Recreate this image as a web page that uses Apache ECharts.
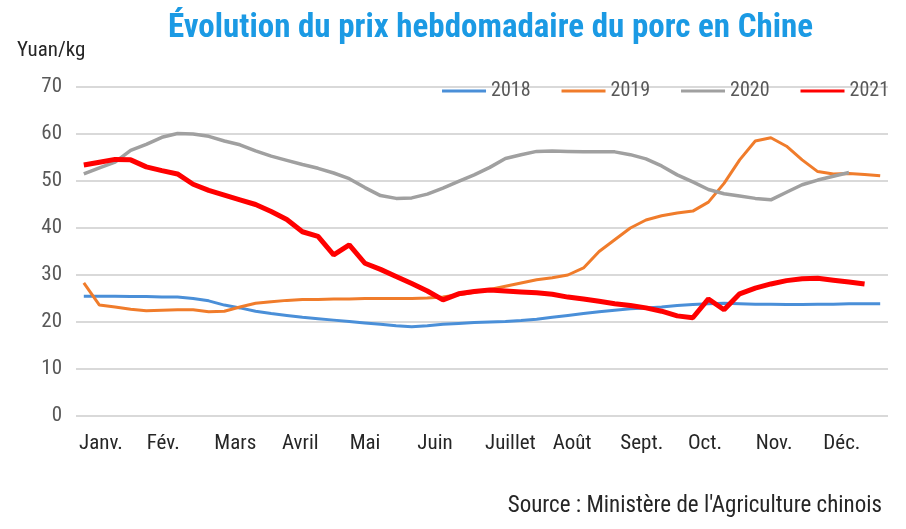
<!DOCTYPE html>
<html>
<head>
<meta charset="utf-8">
<script src="https://cdn.jsdelivr.net/npm/echarts@6/dist/echarts.min.js"></script>
<style>
  html, body { margin: 0; padding: 0; background: #fff; }
  #chart { width: 906px; height: 529px; }
</style>
</head>
<body>
<div id="chart"></div>
<script>
// mois affichés sous l'axe
const months = ['Janv.', 'Fév.', 'Mars', 'Avril', 'Mai', 'Juin', 'Juillet', 'Août', 'Sept.', 'Oct.', 'Nov.', 'Déc.']
const weeks = Array.from({ length: 52 }, (_, i) => 'S' + (i + 1))

// prix hebdomadaire (yuan/kg)
const p2018 = [25.5, 25.5, 25.5, 25.4, 25.4, 25.3, 25.3, 25.0, 24.5, 23.6, 23.0, 22.3, 21.8, 21.4, 21.0, 20.7,
  20.4, 20.1, 19.8, 19.5, 19.2, 19.0, 19.2, 19.5, 19.7, 19.9, 20.0, 20.1, 20.3, 20.6, 21.0, 21.4,
  21.8, 22.2, 22.5, 22.8, 23.0, 23.2, 23.5, 23.7, 23.9, 24.0, 23.9, 23.8, 23.8, 23.7, 23.7, 23.8,
  23.8, 23.9, 23.9, 23.9]
const p2019 = [28.3, 23.6, 23.2, 22.7, 22.4, 22.5, 22.6, 22.6, 22.2, 22.3, 23.2, 24.0, 24.3, 24.6, 24.8, 24.8,
  24.9, 24.9, 25.0, 25.0, 25.0, 25.0, 25.1, 25.3, 25.8, 26.3, 26.9, 27.6, 28.3, 29.0, 29.4, 30.0,
  31.5, 35.0, 37.5, 40.0, 41.7, 42.6, 43.2, 43.6, 45.5, 49.5, 54.5, 58.5, 59.2, 57.4, 54.5, 52.0,
  51.5, 51.6, 51.4, 51.1]
const p2020 = [51.5, 52.8, 54.0, 56.5, 57.8, 59.3, 60.1, 60.0, 59.5, 58.5, 57.7, 56.4, 55.3, 54.4, 53.5, 52.7,
  51.7, 50.5, 48.6, 46.9, 46.3, 46.4, 47.2, 48.5, 49.9, 51.3, 52.9, 54.8, 55.6, 56.3, 56.4, 56.3,
  56.2, 56.2, 56.2, 55.6, 54.7, 53.2, 51.3, 49.8, 48.2, 47.3, 46.8, 46.3, 46.0, 47.6, 49.2, 50.2,
  51.0, 51.8]
const p2021 = [53.4, 54.0, 54.6, 54.5, 53.0, 52.2, 51.5, 49.3, 48.0, 47.0, 46.0, 45.0, 43.5, 41.8, 39.2, 38.2,
  34.3, 36.4, 32.5, 31.2, 29.7, 28.2, 26.6, 24.7, 26.0, 26.5, 26.8, 26.6, 26.4, 26.2, 25.9, 25.3,
  24.9, 24.4, 23.9, 23.5, 23.0, 22.3, 21.3, 20.9, 24.9, 22.6, 26.0, 27.2, 28.1, 28.8, 29.2, 29.3,
  28.9, 28.5, 28.1]

const narrow = "'Liberation Sans Narrow', 'Roboto Condensed', Roboto, sans-serif"

const chart = echarts.init(document.getElementById('chart'))
chart.setOption({
  animation: false,
  title: [
    {
      text: 'Évolution du prix hebdomadaire du porc en Chine',
      left: 163,
      top: 7,
      textStyle: { color: '#1b9ae4', fontSize: 33, fontWeight: 'bold', fontFamily: narrow }
    },
    {
      text: 'Yuan/kg',
      left: 12,
      top: 35,
      textStyle: { color: '#262626', fontSize: 21, fontWeight: 'normal', fontFamily: narrow }
    },
    {
      text: "Source : Ministère de l'Agriculture chinois",
      right: 19,
      top: 490,
      textStyle: { color: '#262626', fontSize: 23, fontWeight: 'normal', fontFamily: narrow }
    }
  ],
  legend: {
    right: 12,
    top: 76,
    icon: 'rect',
    itemWidth: 44,
    itemHeight: 3,
    itemGap: 31,
    textStyle: { color: '#595959', fontSize: 20, fontFamily: narrow },
    data: ['2018', '2019', '2020', '2021']
  },
  grid: { left: 76, right: 18, top: 87, bottom: 113 },
  xAxis: [
    {
      type: 'category',
      data: weeks,
      boundaryGap: true,
      show: false
    },
    {
      type: 'value',
      min: 0,
      max: 12,
      interval: 1,
      position: 'bottom',
      axisLine: { show: false },
      axisTick: { show: false },
      splitLine: { show: false },
      axisLabel: {
        align: 'left',
        margin: 17,
        padding: [0, 0, 0, 3],
        color: '#262626',
        fontSize: 21,
        fontFamily: narrow,
        formatter: v => months[v] || ''
      }
    }
  ],
  yAxis: {
    type: 'value',
    min: 0,
    max: 70,
    interval: 10,
    axisLine: { show: false },
    axisTick: { show: false },
    splitLine: { lineStyle: { color: '#d9d9d9', width: 2 } },
    axisLabel: { color: '#595959', fontSize: 21, margin: 14, fontFamily: narrow }
  },
  series: [
    { name: '2018', type: 'line', data: p2018, showSymbol: false, lineStyle: { color: '#4a8fd8', width: 3 }, itemStyle: { color: '#4a8fd8' } },
    { name: '2019', type: 'line', data: p2019, showSymbol: false, lineStyle: { color: '#f07c2b', width: 3 }, itemStyle: { color: '#f07c2b' } },
    { name: '2020', type: 'line', data: p2020, showSymbol: false, lineStyle: { color: '#a0a0a0', width: 3.5 }, itemStyle: { color: '#a0a0a0' } },
    { name: '2021', type: 'line', data: p2021, showSymbol: false, lineStyle: { color: '#ff0000', width: 5 }, itemStyle: { color: '#ff0000' } }
  ]
})
window.addEventListener('resize', () => chart.resize())
</script>
</body>
</html>
